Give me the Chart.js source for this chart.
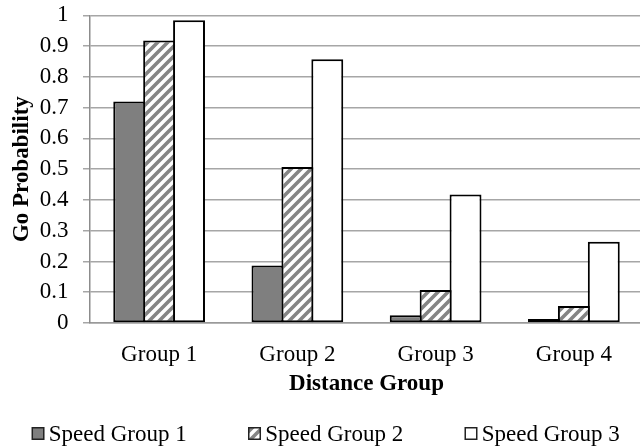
<!DOCTYPE html>
<html>
<head>
<meta charset="utf-8">
<script src="https://cdn.jsdelivr.net/npm/chart.js@4/dist/chart.umd.min.js"></script>
<style>
  html, body { margin: 0; padding: 0; background: #fff; overflow: hidden; }
  canvas { display: block; }
</style>
</head>
<body>
<canvas id="chart" width="643" height="447"></canvas>
<script>
// Distance groups along the x axis
const categories = ['Group 1', 'Group 2', 'Group 3', 'Group 4'];
// Go probability for each speed group
const speedGroup1 = [0.72, 0.187, 0.025, 0.013];
const speedGroup2 = [0.918, 0.507, 0.107, 0.055];
const speedGroup3 = [0.984, 0.857, 0.418, 0.264];
const seriesNames = ['Speed Group 1', 'Speed Group 2', 'Speed Group 3'];
const yTickLabels = ['0', '0.1', '0.2', '0.3', '0.4', '0.5', '0.6', '0.7', '0.8', '0.9', '1'];

const SERIF = '"Liberation Serif", "Times New Roman", serif';

// Diagonal hatch fill
function makeHatch() {
  const c = document.createElement('canvas');
  c.width = 10; c.height = 10;
  const g = c.getContext('2d');
  g.fillStyle = '#ffffff';
  g.fillRect(0, 0, 10, 10);
  g.strokeStyle = '#858585';
  g.lineWidth = 3.6;
  g.lineCap = 'square';
  for (const x0 of [-10, 0, 10]) {
    g.beginPath();
    g.moveTo(x0, 10);
    g.lineTo(x0 + 10, 0);
    g.stroke();
  }
  return g.createPattern(c, 'repeat');
}

const ctx = document.getElementById('chart').getContext('2d');
const hatch = makeHatch();
const fills = ['#7f7f7f', hatch, '#ffffff'];

const legendPlugin = {
  id: 'bottomLegend',
  afterDraw(chart) {
    const g = chart.ctx;
    g.save();
    g.font = '23px ' + SERIF;
    g.textBaseline = 'middle';
    g.textAlign = 'left';
    const box = 11.5, gapText = 5, gapItem = 62, cy = 433.5;
    const widths = seriesNames.map(t => box + gapText + g.measureText(t).width);
    const total = widths.reduce((a, b) => a + b, 0) + gapItem * (widths.length - 1);
    let x = 326 - total / 2;
    seriesNames.forEach((name, i) => {
      g.fillStyle = fills[i];
      g.fillRect(x, cy - box / 2, box, box);
      g.lineWidth = 1.5;
      g.strokeStyle = '#222';
      g.strokeRect(x, cy - box / 2, box, box);
      g.fillStyle = '#000';
      g.fillText(name, x + box + gapText, cy + 1);
      x += widths[i] + gapItem;
    });
    g.restore();
  }
};

const barStyle = {
  borderColor: '#000',
  borderWidth: 2,
  borderSkipped: false,
  categoryPercentage: 0.649,
  barPercentage: 1.067
};

new Chart(ctx, {
  type: 'bar',
  data: {
    labels: categories,
    datasets: [
      Object.assign({ label: seriesNames[0], data: speedGroup1, backgroundColor: fills[0] }, barStyle),
      Object.assign({ label: seriesNames[1], data: speedGroup2, backgroundColor: fills[1] }, barStyle),
      Object.assign({ label: seriesNames[2], data: speedGroup3, backgroundColor: fills[2] }, barStyle)
    ]
  },
  options: {
    responsive: false,
    animation: false,
    devicePixelRatio: 1,
    layout: { padding: { top: 15.3, right: 0, bottom: 50, left: 0 } },
    plugins: { legend: { display: false }, tooltip: { enabled: false } },
    scales: {
      x: {
        grid: { display: false },
        border: { display: true, color: '#9a9a9a', width: 1.5 },
        ticks: { color: '#000', font: { family: SERIF, size: 23 }, padding: 10 },
        title: {
          display: true,
          text: 'Distance Group',
          color: '#000',
          font: { family: SERIF, size: 23, weight: 'bold', lineHeight: 1 },
          padding: { top: 0, bottom: 1 }
        },
        afterFit(scale) { scale.height = 74; }
      },
      y: {
        min: 0,
        max: 1,
        ticks: {
          stepSize: 0.1,
          autoSkip: false,
          color: '#000',
          font: { family: SERIF, size: 23, lineHeight: 1 },
          padding: 14.5,
          callback: (v, i) => yTickLabels[i]
        },
        grid: { color: '#a6a6a6', lineWidth: 1.5, tickLength: 7 },
        border: { display: true, color: '#8c8c8c', width: 1.5 },
        title: {
          display: true,
          text: 'Go Probability',
          color: '#000',
          font: { family: SERIF, size: 23, weight: 'bold', lineHeight: 1 },
          padding: { top: 11, bottom: 0 }
        },
        afterFit(scale) {
          scale.width = 90;
          scale.paddingTop = 12;
          scale.paddingBottom = 12;
        }
      }
    }
  },
  plugins: [legendPlugin]
});
</script>
</body>
</html>
